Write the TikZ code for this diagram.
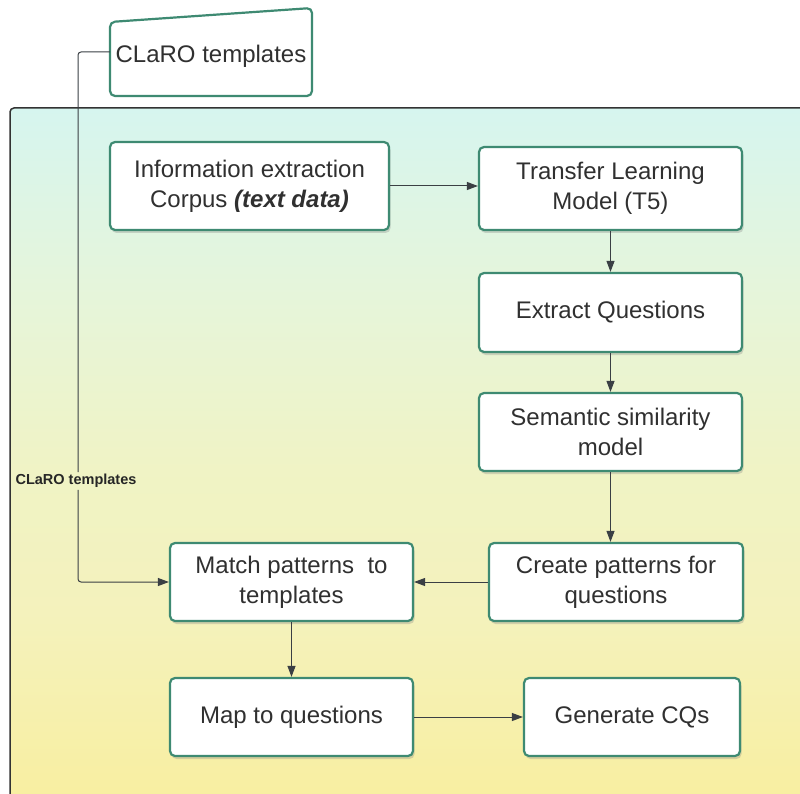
\documentclass[tikz,border=0pt]{standalone}
\usepackage{fontspec}
\setmainfont{Liberation Sans}
\usetikzlibrary{arrows.meta,shadows}
\definecolor{boxborder}{HTML}{3E8A72}
\definecolor{txt}{HTML}{303030}
\definecolor{linec}{HTML}{3A3F44}
\definecolor{bgtop}{HTML}{D6F5EF}
\definecolor{bggreen}{HTML}{E6F5DA}
\definecolor{bgyel}{HTML}{F4F2BC}
\definecolor{bgbot}{HTML}{F9EE9C}
\pgfdeclareverticalshading{bgshade}{100bp}{color(0bp)=(bgbot); color(25bp)=(bgbot); color(40bp)=(bgyel); color(50bp)=(bgyel!70!bggreen); color(62bp)=(bggreen); color(75bp)=(bgtop); color(100bp)=(bgtop)}
\tikzset{
  box/.style={draw=boxborder, line width=2.2pt, rounded corners=5pt, fill=white,
    align=center, text=txt, font=\fontsize{24}{30}\selectfont, inner sep=2pt,
    drop shadow={opacity=0.3, shadow xshift=1.5pt, shadow yshift=-3pt}},
  arr/.style={draw=linec, line width=1pt, -{Triangle[length=11pt,width=8pt]}},
  conn/.style={draw=linec, line width=1pt},
  lbl/.style={font=\fontsize{14.5}{16}\selectfont\bfseries, text=black!85, inner sep=2pt}
}
\begin{document}
\begin{tikzpicture}[x=1pt,y=-1pt]
\useasboundingbox (0,0) rectangle (800,794);
\fill[white] (0,0) rectangle (800,794);
\begin{scope}
  \clip (0,0) rectangle (800,794);
  \path[shading=bgshade, draw=black!80, line width=1.5pt, rounded corners=4pt] (10,108) rectangle (830,830);
\end{scope}

% CLaRO templates shape
\draw[boxborder, line width=2.2pt, fill=white, rounded corners=5pt]
  (110,22) -- (312,8) -- (312,96) -- (110,96) -- cycle;
\node[text=txt, font=\fontsize{24}{30}\selectfont, minimum width=202pt, minimum height=10pt, inner sep=0pt] (claro) at (211,56) {CLaRO templates};
\coordinate (claroin) at (110,52);

% boxes
\node[box, minimum width=279pt, minimum height=88pt] (info) at (249.5,186) {Information extraction\\Corpus \textbf{\textit{(text data)}}};
\node[box, minimum width=263pt, minimum height=83pt] (tl) at (610.5,188.5) {Transfer Learning\\Model (T5)};
\node[box, minimum width=263pt, minimum height=79pt] (eq) at (610.5,312.5) {Extract Questions};
\node[box, minimum width=263pt, minimum height=78pt] (sem) at (610.5,432) {Semantic similarity\\model};
\node[box, minimum width=254pt, minimum height=78pt] (cp) at (616,582) {Create patterns for\\questions};
\node[box, minimum width=243pt, minimum height=78pt] (mp) at (291.5,582) {Match patterns\ \ to\\templates};
\node[box, minimum width=243pt, minimum height=78pt] (map) at (291.5,717) {Map to questions};
\node[box, minimum width=216pt, minimum height=78pt] (gen) at (632,717) {Generate CQs};

% connectors
\draw[arr] (info.east |- 0,186) -- (tl.west |- 0,186);
\draw[arr] (tl.south) -- (eq.north);
\draw[arr] (eq.south) -- (sem.north);
\draw[arr] (sem.south) -- (sem.south |- cp.north);
\draw[arr] (cp.west) -- (mp.east);
\draw[arr] (mp.south) -- (map.north);
\draw[arr] (map.east) -- (gen.west);

% CLaRO connector with label
\node[lbl] (clarolbl) at (76,481) {CLaRO templates};
\draw[conn, rounded corners=3pt] (claroin) -- (78,52) -- (clarolbl.north -| 78,0);
\draw[arr, rounded corners=3pt] (clarolbl.south -| 78,0) |- (mp.west);
\end{tikzpicture}
\end{document}
